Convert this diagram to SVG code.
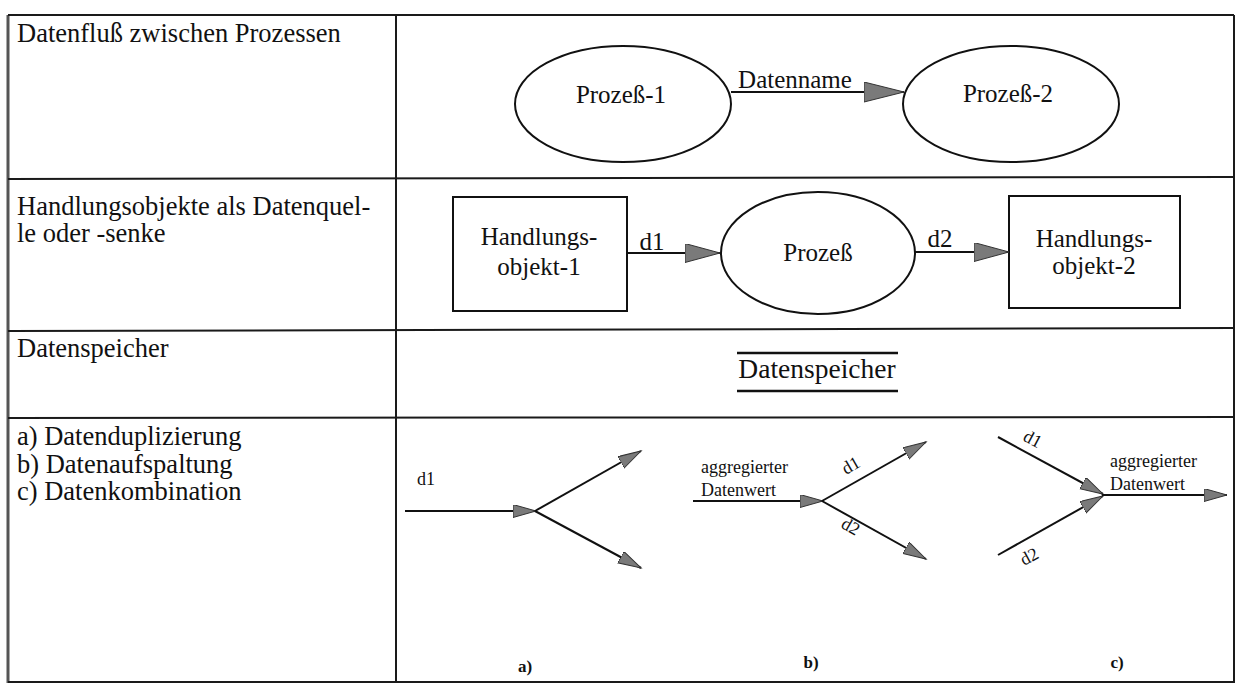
<svg xmlns="http://www.w3.org/2000/svg" width="1237" height="683" viewBox="0 0 1237 683">
<style>
  text { font-family: 'Liberation Serif', 'DejaVu Serif', serif; fill: #111; }
  .tbl { stroke: #1a1a1a; stroke-width: 2; fill: none; }
  .lt { font-size: 26.5px; }
  .nt { font-size: 25px; text-anchor: middle; }
  .st { font-size: 18px; }
  .cap { font-size: 17px; font-weight: bold; text-anchor: middle; }
  .shape { fill: #fff; stroke: #111; stroke-width: 2; }
  .flow { stroke: #111; stroke-width: 2; fill: none; }
</style>
<defs>
  <marker id="arrowL" markerUnits="userSpaceOnUse" markerWidth="42" markerHeight="22" refX="40" refY="10" orient="auto">
    <path d="M0,0 L40,10 L0,20 Z" fill="#7a7a7a" stroke="#333" stroke-width="1"/>
  </marker>
  <marker id="arrowM" markerUnits="userSpaceOnUse" markerWidth="37" markerHeight="21" refX="35" refY="9.5" orient="auto">
    <path d="M0,0 L35,9.5 L0,19 Z" fill="#7a7a7a" stroke="#333" stroke-width="1"/>
  </marker>
  <marker id="arrowS" markerUnits="userSpaceOnUse" markerWidth="25" markerHeight="14" refX="23" refY="6.5" orient="auto">
    <path d="M0,0 L23,6.5 L0,13 Z" fill="#7a7a7a" stroke="#333" stroke-width="1"/>
  </marker>
</defs>

<g id="table">
  <rect x="0" y="0" width="1237" height="683" fill="#fff"/>
  <line x1="8" y1="15" x2="8" y2="683" stroke="#555" stroke-width="3"/>
  <line x1="8" y1="15" x2="1234" y2="15" class="tbl"/>
  <line x1="1234" y1="15" x2="1234" y2="683" class="tbl"/>
  <line x1="8" y1="682" x2="1234" y2="682" class="tbl"/>
  <line x1="396" y1="15" x2="396" y2="683" class="tbl"/>
  <line x1="8" y1="179" x2="1234" y2="177" class="tbl"/>
  <line x1="8" y1="331" x2="1234" y2="328" class="tbl"/>
  <line x1="8" y1="418" x2="1234" y2="417" class="tbl"/>
</g>

<g id="labels-left">
  <text class="lt" x="17" y="42">Datenfluß zwischen Prozessen</text>
  <text class="lt" x="17" y="215">Handlungsobjekte als Datenquel-</text>
  <text class="lt" x="17" y="242">le oder -senke</text>
  <text class="lt" x="17" y="357">Datenspeicher</text>
  <text class="lt" x="17" y="445">a) Datenduplizierung</text>
  <text class="lt" x="17" y="473">b) Datenaufspaltung</text>
  <text class="lt" x="17" y="500">c) Datenkombination</text>
</g>

<g id="prozess-1">
  <ellipse class="shape" cx="623" cy="104" rx="108" ry="58"/>
  <text class="nt" x="621" y="103">Prozeß-1</text>
</g>
<g id="prozess-2">
  <ellipse class="shape" cx="1011" cy="104" rx="108" ry="58"/>
  <text class="nt" x="1008" y="102">Prozeß-2</text>
</g>

<g id="handlungsobjekt-1">
  <rect class="shape" x="453" y="197" width="174" height="114"/>
  <text class="nt" x="539" y="245">Handlungs-</text>
  <text class="nt" x="539" y="275">objekt-1</text>
</g>
<g id="prozess">
  <ellipse class="shape" cx="818" cy="253" rx="97" ry="61"/>
  <text class="nt" x="818" y="261">Prozeß</text>
</g>
<g id="handlungsobjekt-2">
  <rect class="shape" x="1009" y="196" width="171" height="112"/>
  <text class="nt" x="1094" y="247">Handlungs-</text>
  <text class="nt" x="1094" y="274">objekt-2</text>
</g>

<g id="datenspeicher">
  <line x1="737" y1="353" x2="898" y2="353" stroke="#111" stroke-width="2.5"/>
  <line x1="737" y1="391" x2="898" y2="391" stroke="#111" stroke-width="2.5"/>
  <text x="817" y="378" text-anchor="middle" font-size="27.5">Datenspeicher</text>
</g>

<g id="connectors">
  <line class="flow" x1="731" y1="92" x2="904" y2="92" marker-end="url(#arrowL)"/>
  <text class="nt" x="795" y="88">Datenname</text>
  <line class="flow" x1="627" y1="253" x2="720" y2="253" marker-end="url(#arrowM)"/>
  <text class="nt" x="652" y="250">d1</text>
  <line class="flow" x1="915" y1="252" x2="1009" y2="252" marker-end="url(#arrowM)"/>
  <text class="nt" x="940" y="247">d2</text>

  <line class="flow" x1="405" y1="511" x2="536" y2="511" marker-end="url(#arrowS)"/>
  <line class="flow" x1="535" y1="511" x2="641" y2="451" marker-end="url(#arrowS)"/>
  <line class="flow" x1="535" y1="511" x2="641" y2="568" marker-end="url(#arrowS)"/>
  <text class="st" x="417" y="485">d1</text>

  <line class="flow" x1="693" y1="501" x2="823" y2="501" marker-end="url(#arrowS)"/>
  <line class="flow" x1="822" y1="501" x2="926" y2="442" marker-end="url(#arrowS)"/>
  <line class="flow" x1="822" y1="501" x2="926" y2="559" marker-end="url(#arrowS)"/>
  <text class="st" x="701" y="473">aggregierter</text>
  <text class="st" x="701" y="496">Datenwert</text>
  <text class="st" x="846" y="475" transform="rotate(-30 846 475)">d1</text>
  <text class="st" x="840" y="527" transform="rotate(30 840 527)">d2</text>

  <line class="flow" x1="998" y1="437" x2="1103" y2="494" marker-end="url(#arrowS)"/>
  <line class="flow" x1="998" y1="555" x2="1103" y2="496" marker-end="url(#arrowS)"/>
  <line class="flow" x1="1102" y1="495" x2="1227" y2="495" marker-end="url(#arrowS)"/>
  <text class="st" x="1110" y="467">aggregierter</text>
  <text class="st" x="1110" y="490">Datenwert</text>
  <text class="st" x="1022" y="440" transform="rotate(28 1022 440)">d1</text>
  <text class="st" x="1024" y="566" transform="rotate(-28 1024 566)">d2</text>
</g>

<g id="captions">
  <text class="cap" x="525" y="672">a)</text>
  <text class="cap" x="811" y="668">b)</text>
  <text class="cap" x="1117" y="668">c)</text>
</g>
</svg>
